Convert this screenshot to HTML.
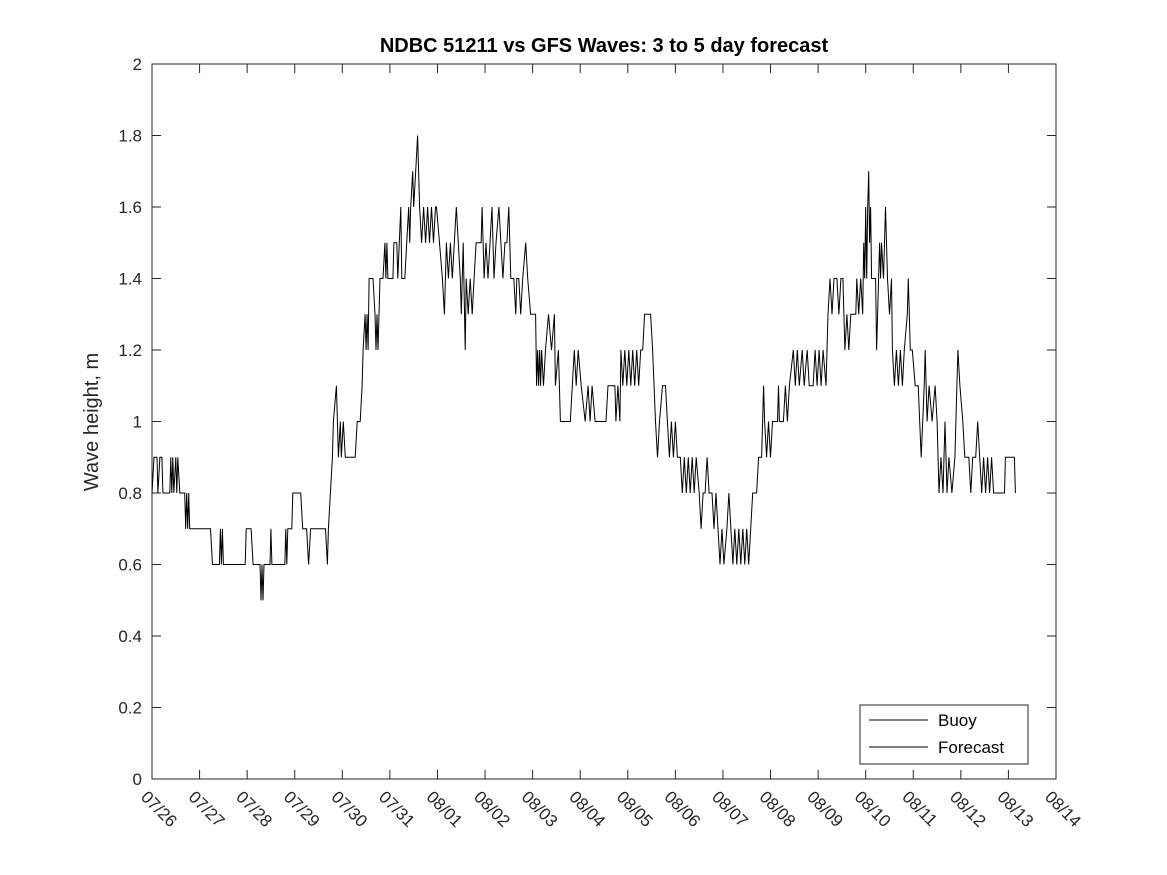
<!DOCTYPE html>
<html><head><meta charset="utf-8"><style>
body{margin:0;background:#fff}
svg{display:block;font-family:"Liberation Sans","DejaVu Sans",sans-serif}
</style></head><body>
<svg id="chart" width="1167" height="875">
<rect width="1167" height="875" fill="#fff"/>
<text x="604" y="52" text-anchor="middle" font-size="20" font-weight="bold" fill="#000">NDBC 51211 vs GFS Waves: 3 to 5 day forecast</text>
<text transform="translate(98,422) rotate(-90)" text-anchor="middle" font-size="20" fill="#262626">Wave height, m</text>
<g id="axes"></g>
<g id="series"></g>
<g>
<rect x="860" y="705" width="168" height="59" fill="#fff" stroke="#262626" stroke-width="1"/>
<line x1="869" y1="720" x2="928" y2="720" stroke="#000"/>
<text x="938" y="726" font-size="17" fill="#000">Buoy</text>
<line x1="869" y1="747" x2="928" y2="747" stroke="#000"/>
<text x="938" y="753" font-size="17" fill="#000">Forecast</text>
</g>
</svg>
<script>
const xTickLabels=["07/26","07/27","07/28","07/29","07/30","07/31","08/01","08/02","08/03","08/04","08/05","08/06","08/07","08/08","08/09","08/10","08/11","08/12","08/13","08/14"];
const yTicks=[0,0.2,0.4,0.6,0.8,1,1.2,1.4,1.6,1.8,2];
const yTickLabels=["0","0.2","0.4","0.6","0.8","1","1.2","1.4","1.6","1.8","2"];
const buoyHours=[0,1,2.5,3,4,5,5.5,9,9.5,10,10.5,11,12,12.5,13,14,16.5,17,17.5,18,18.5,19,29.5,30.5,34,34.5,35,35.5,36,47,47.5,50,51,54.5,55,55.5,56,56.5,59.5,60,60.5,67,67.5,68,68.5,70.5,71,75,76,78,79,80,87.5,88.5,89,90,91,91.5,93,94,95,95.5,96.5,97.5,102.5,103.5,105,106,106.5,107.5,108,108.5,109,109.5,111.5,112.5,113,113.5,114,115,116.5,117.5,118,118.5,119,121.5,122,123.5,124,125.5,126,127.5,128.5,129.5,130,130.5,131.5,132,133,134,135,136,137,138,139,140,141,142,143,143.5,145,146.5,147.5,148.5,149.5,150.5,151.5,152.5,153.5,154.5,155.5,156,157,158,158.5,159.5,160.5,161.5,162.5,163.5,166,166.5,167.5,168.5,169.5,170.5,171.5,172.5,173.5,175,176,177,178,179,180,180.5,181,182.5,183.5,184,185,186,187,188.5,189.5,191,193.5,194,194.5,195,195.5,196,196.5,197.5,198.5,200,201.5,203,203.5,205,206,211,212,213,214,215,216.5,218.5,220,221,222,223.5,229,230,233.5,234,235,236,236.5,237.5,238.5,239.5,240.5,241.5,242.5,243.5,244.5,245.5,246.5,247.5,248.5,251.5,252.5,254,255,256,257.5,259,260,261,262,263,264,265,266.5,267.5,268.5,269.5,270.5,271.5,272.5,273.5,274.5,276,277,278,279,280,281,282.5,283.5,284.5,285.5,286.5,287.5,288.5,290,291,292,293,294,295,296,297,298,299,300,301,302,303,305,306,307.5,308.5,309,310,311,312,313,315.5,316,316.5,318.5,319.5,320.5,321.5,323.5,324.5,325.5,326.5,328,329,330.5,331.5,333.5,334.5,335.5,336.5,337.5,338.5,340,341,342,343,344,345.5,346.5,347.5,348.5,349.5,350.5,351.5,352.5,355,355.5,356.5,357.5,358.5,359,359.5,360,360.5,361,361.5,362,362.5,363,363.5,365,365.5,366.5,367,367.5,368,369,370,371,372,373,373.5,374.5,375.5,376.5,377.5,378.5,379.5,381,381.5,382.5,383.5,385,386.5,388,389.5,390,391,392,393.5,395,396,397,398,399,400,401,402,403.5,405,406.5,407.5,409,410,412,413,414,415.5,416.5,417.5,418.5,419.5,420.5,421.5,422.5,423.5,424.5,430,430.5,435,435.5];
const buoyValues=[0.8,0.9,0.9,0.8,0.9,0.9,0.8,0.8,0.9,0.8,0.9,0.8,0.9,0.8,0.9,0.8,0.8,0.7,0.8,0.7,0.8,0.7,0.7,0.6,0.6,0.7,0.6,0.7,0.6,0.6,0.7,0.7,0.6,0.6,0.5,0.6,0.5,0.6,0.6,0.7,0.6,0.6,0.7,0.6,0.7,0.7,0.8,0.8,0.7,0.7,0.6,0.7,0.7,0.6,0.7,0.8,0.9,1.0,1.1,0.9,1.0,0.9,1.0,0.9,0.9,1.0,1.0,1.1,1.2,1.3,1.2,1.3,1.2,1.4,1.4,1.3,1.2,1.3,1.2,1.4,1.4,1.5,1.4,1.5,1.4,1.4,1.5,1.5,1.4,1.6,1.4,1.4,1.5,1.6,1.5,1.6,1.7,1.6,1.7,1.8,1.6,1.5,1.6,1.5,1.6,1.5,1.6,1.5,1.6,1.6,1.5,1.4,1.3,1.5,1.4,1.5,1.4,1.5,1.6,1.5,1.4,1.3,1.5,1.2,1.4,1.3,1.4,1.3,1.4,1.5,1.5,1.6,1.4,1.5,1.4,1.5,1.6,1.4,1.5,1.6,1.5,1.4,1.5,1.5,1.6,1.5,1.4,1.4,1.3,1.4,1.4,1.3,1.4,1.5,1.4,1.3,1.3,1.1,1.2,1.1,1.2,1.1,1.2,1.1,1.2,1.3,1.2,1.3,1.1,1.2,1.0,1.0,1.1,1.2,1.1,1.2,1.1,1.0,1.1,1.0,1.1,1.0,1.0,1.1,1.1,1.0,1.1,1.0,1.2,1.1,1.2,1.1,1.2,1.1,1.2,1.1,1.2,1.1,1.2,1.2,1.3,1.3,1.2,1.0,0.9,1.0,1.1,1.1,1.0,0.9,1.0,0.9,1.0,0.9,0.9,0.8,0.9,0.8,0.9,0.8,0.9,0.8,0.9,0.8,0.7,0.8,0.8,0.9,0.8,0.8,0.7,0.8,0.7,0.6,0.7,0.6,0.7,0.8,0.7,0.6,0.7,0.6,0.7,0.6,0.7,0.6,0.7,0.6,0.7,0.8,0.8,0.9,0.9,1.1,1.0,0.9,1.0,0.9,1.0,1.0,1.1,1.0,1.0,1.1,1.0,1.1,1.2,1.1,1.2,1.1,1.2,1.1,1.2,1.1,1.1,1.2,1.1,1.2,1.1,1.2,1.1,1.3,1.4,1.3,1.4,1.4,1.3,1.4,1.4,1.2,1.3,1.2,1.3,1.3,1.4,1.3,1.4,1.3,1.5,1.4,1.6,1.4,1.6,1.7,1.5,1.6,1.4,1.4,1.4,1.2,1.4,1.5,1.4,1.5,1.4,1.6,1.4,1.3,1.4,1.2,1.1,1.2,1.1,1.2,1.1,1.2,1.3,1.4,1.2,1.2,1.1,1.1,0.9,1.1,1.2,1.0,1.1,1.0,1.1,1.0,0.8,0.9,0.8,1.0,0.8,0.9,0.8,0.9,1.2,1.1,1.0,0.9,0.9,0.8,0.9,0.9,1.0,0.9,0.8,0.9,0.8,0.9,0.8,0.9,0.8,0.8,0.9,0.9,0.8];
const NS="http://www.w3.org/2000/svg";
const X0=152,X1=1056,Y0=779,Y1=64,HMAX=456,VMAX=2;
function xs(h){return X0+h/HMAX*(X1-X0);}
function ys(v){return Y0-v/VMAX*(Y0-Y1);}
function mk(tag,attrs,parent){const e=document.createElementNS(NS,tag);for(const k in attrs)e.setAttribute(k,attrs[k]);parent.appendChild(e);return e;}
const axes=document.getElementById('axes');
const box=mk('rect',{x:X0,y:Y1,width:X1-X0,height:Y0-Y1,fill:'none',stroke:'#262626','stroke-width':1},axes);


yTicks.forEach((v,i)=>{
  const y=ys(v);
  const t1=mk('line',{x1:X0,y1:y,x2:X0+9,y2:y,stroke:'#262626'},axes);
  
  
  const t2=mk('line',{x1:X1-9,y1:y,x2:X1,y2:y,stroke:'#262626'},axes);
  
  
  const tx=mk('text',{x:X0-10,y:y+6,'text-anchor':'end','font-size':17,fill:'#262626'},axes);
  tx.textContent=yTickLabels[i];
  
  
});
xTickLabels.forEach((lab,i)=>{
  const x=xs(i*24);
  const t1=mk('line',{x1:x,y1:Y0,x2:x,y2:Y0-9,stroke:'#262626'},axes);
  
  
  const t2=mk('line',{x1:x,y1:Y1,x2:x,y2:Y1+9,stroke:'#262626'},axes);
  
  
  const tx=mk('text',{transform:`translate(${x-12},${Y0+19}) rotate(45)`,'font-size':17,fill:'#262626'},axes);
  tx.textContent=lab;
  
  
});
const pts=buoyHours.map((h,i)=>xs(h).toFixed(1)+','+ys(buoyValues[i]).toFixed(1)).join(' ');
const line=mk('polyline',{points:pts,fill:'none',stroke:'#000','stroke-width':1,'stroke-linejoin':'miter'},document.getElementById('series'));


</script>
</body></html>
